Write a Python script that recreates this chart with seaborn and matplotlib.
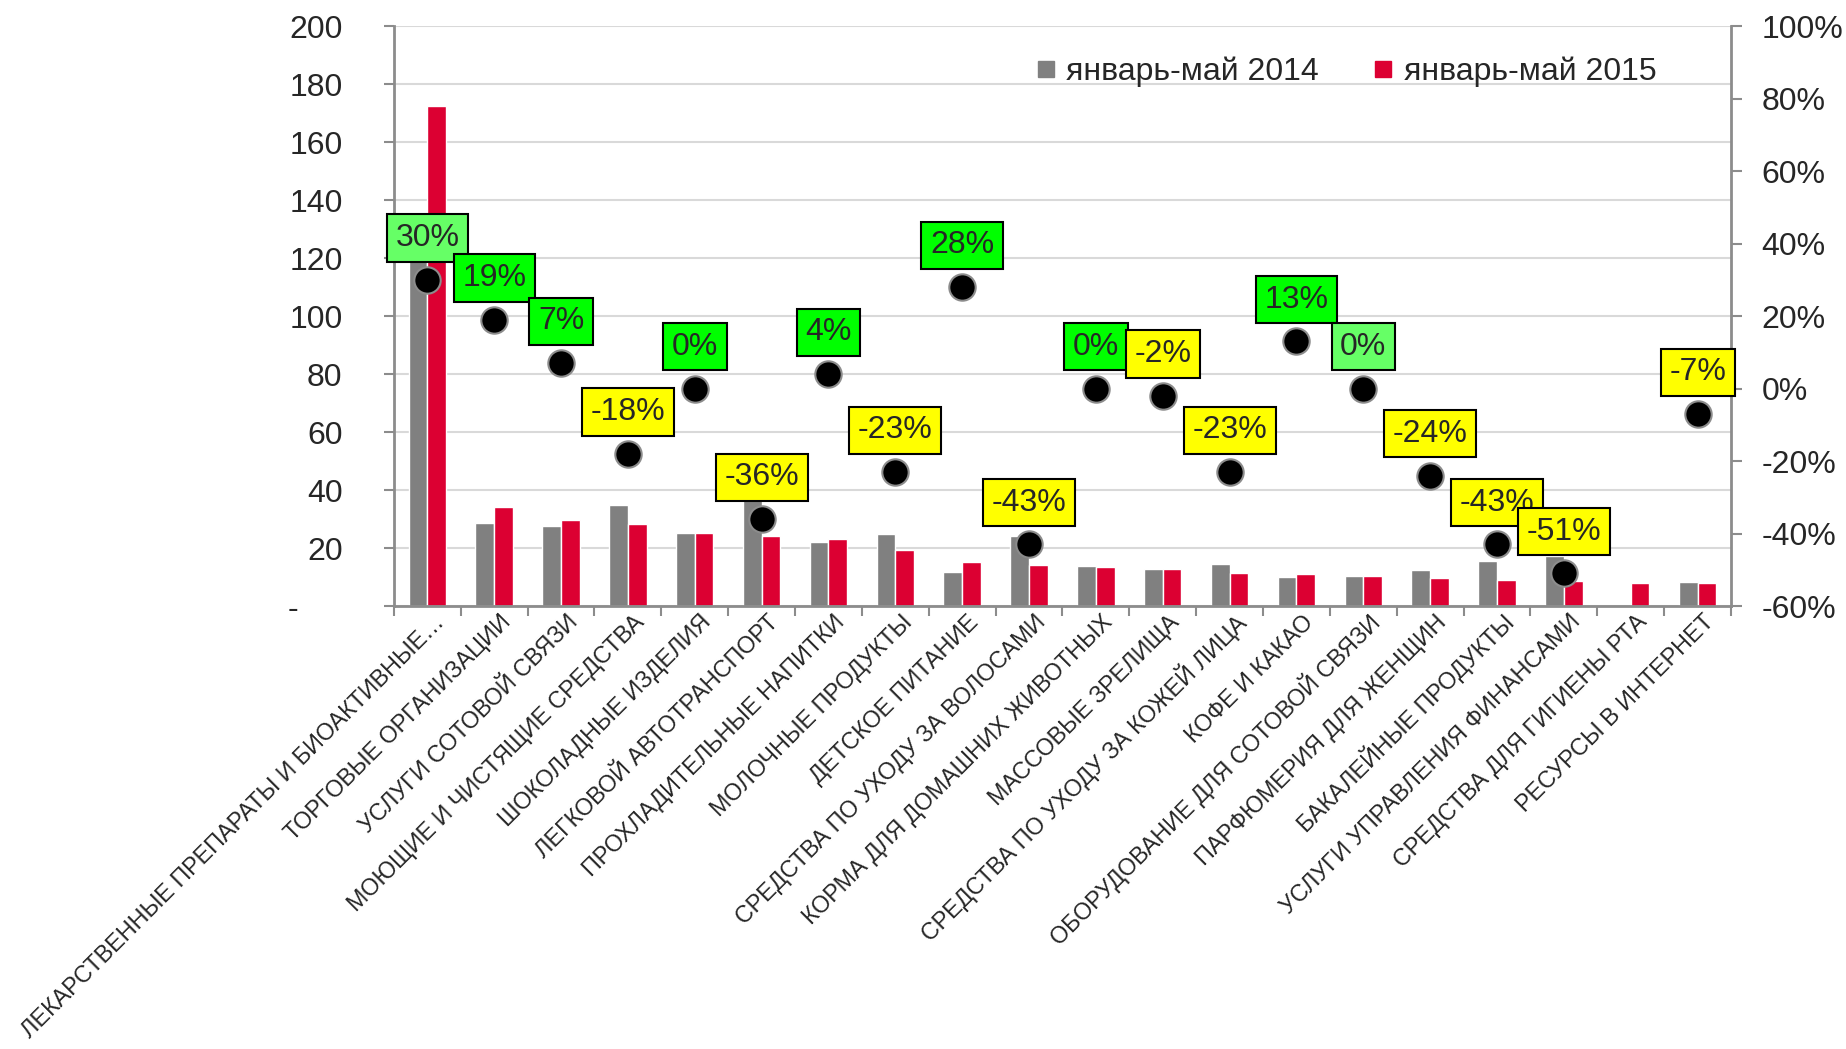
import numpy as np
import pandas as pd
import matplotlib
matplotlib.use("Agg")
import matplotlib.pyplot as plt
import matplotlib.transforms as mtransforms
import seaborn as sns
from matplotlib.lines import Line2D

categories = [
    "ЛЕКАРСТВЕННЫЕ ПРЕПАРАТЫ И БИОАКТИВНЫЕ…",
    "ТОРГОВЫЕ ОРГАНИЗАЦИИ",
    "УСЛУГИ СОТОВОЙ СВЯЗИ",
    "МОЮЩИЕ И ЧИСТЯЩИЕ СРЕДСТВА",
    "ШОКОЛАДНЫЕ ИЗДЕЛИЯ",
    "ЛЕГКОВОЙ АВТОТРАНСПОРТ",
    "ПРОХЛАДИТЕЛЬНЫЕ НАПИТКИ",
    "МОЛОЧНЫЕ ПРОДУКТЫ",
    "ДЕТСКОЕ ПИТАНИЕ",
    "СРЕДСТВА ПО УХОДУ ЗА ВОЛОСАМИ",
    "КОРМА ДЛЯ ДОМАШНИХ ЖИВОТНЫХ",
    "МАССОВЫЕ ЗРЕЛИЩА",
    "СРЕДСТВА ПО УХОДУ ЗА КОЖЕЙ ЛИЦА",
    "КОФЕ И КАКАО",
    "ОБОРУДОВАНИЕ ДЛЯ СОТОВОЙ СВЯЗИ",
    "ПАРФЮМЕРИЯ ДЛЯ ЖЕНЩИН",
    "БАКАЛЕЙНЫЕ ПРОДУКТЫ",
    "УСЛУГИ УПРАВЛЕНИЯ ФИНАНСАМИ",
    "СРЕДСТВА ДЛЯ ГИГИЕНЫ РТА",
    "РЕСУРСЫ В ИНТЕРНЕТ",
]
series_names = ["январь-май 2014", "январь-май 2015"]
values_2014 = [132, 28.5, 27.5, 34.7, 25.3, 37.8, 22.2, 25.0, 11.8, 24.2, 13.7, 12.9,
               14.6, 10.0, 10.3, 12.5, 15.6, 17.3, np.nan, 8.3]
values_2015 = [172.3, 34.1, 29.5, 28.3, 25.3, 24.2, 23.0, 19.3, 15.2, 14.0, 13.6, 12.6,
               11.3, 11.0, 10.3, 9.5, 9.0, 8.5, 8.1, 7.8]
change_pct = [30, 19, 7, -18, 0, -36, 4, -23, 28, -43, 0, -2, -23, 13, 0, -24, -43, -51, None, -7]
label_colors = ["#66FF66", "#00FF00", "#00FF00", "#FFFF00", "#00FF00", "#FFFF00", "#00FF00",
                "#FFFF00", "#00FF00", "#FFFF00", "#00FF00", "#FFFF00", "#FFFF00", "#00FF00",
                "#66FF66", "#FFFF00", "#FFFF00", "#FFFF00", None, "#FFFF00"]
left_ticks = list(range(0, 201, 20))
left_tick_labels = ["-     "] + [str(v) for v in left_ticks[1:]]
right_ticks = [-60, -40, -20, 0, 20, 40, 60, 80, 100]

GRAY = "#808080"
RED = "#DC0032"
AXIS = "#8C8C8C"

sns.set_theme(style="white")
plt.rcParams['font.family'] = ['Liberation Sans', 'DejaVu Sans']

fig = plt.figure(figsize=(18.46, 10.49), dpi=100)
ax = fig.add_axes([0.2134, 0.4223, 0.7243, 0.5529])

df = pd.DataFrame({
    "cat": categories * 2,
    "series": [series_names[0]] * len(categories) + [series_names[1]] * len(categories),
    "value": values_2014 + values_2015,
})
sns.barplot(data=df, x="cat", y="value", hue="series", order=categories,
            hue_order=series_names, palette=[GRAY, RED], width=0.56, saturation=1,
            errorbar=None, legend=False, ax=ax)

ax.set_ylim(0, 200)
ax.set_xlim(-0.5, len(categories) - 0.5)
ax.set_yticks(left_ticks)
ax.set_yticklabels(left_tick_labels, fontsize=23)
ax.set_xlabel("")
ax.set_ylabel("")
ax.yaxis.grid(True, color="#D9D9D9", lw=1.5)
ax.set_axisbelow(True)
ax.set_xticks(range(len(categories)))
ax.set_xticklabels(categories, rotation=45, ha="right", va="center",
                   rotation_mode="anchor", fontsize=16.8)
ax.set_xticks(np.arange(-0.5, len(categories)), minor=True)
ax.tick_params(axis="x", which="major", length=0, pad=9)
ax.tick_params(axis="x", which="minor", length=7, width=1.5, color=AXIS, bottom=True)
ax.tick_params(axis="y", length=7, width=1.5, color=AXIS, left=True, pad=30)
for s in ["top", "right"]:
    ax.spines[s].set_visible(False)
for s in ["left", "bottom"]:
    ax.spines[s].set_color(AXIS)
    ax.spines[s].set_linewidth(2)

ax2 = ax.twinx()
dfp = pd.DataFrame({"cat": categories,
                    "pct": [np.nan if p is None else p / 100 for p in change_pct]})
sns.stripplot(data=dfp, x="cat", y="pct", order=categories, jitter=False, size=19,
              color="black", edgecolor="#8C8C8C", linewidth=1.5, ax=ax2, zorder=3)
ax2.set_xlim(-0.5, len(categories) - 0.5)
ax2.set_ylim(-0.6, 1.0)
ax2.set_yticks([t / 100 for t in right_ticks])
ax2.set_yticklabels([f"{t}%" for t in right_ticks], fontsize=23)
ax2.set_ylabel("")
ax2.set_xlabel("")
ax2.tick_params(axis="y", length=8, width=1.5, color=AXIS, right=True, pad=14)
ax2.tick_params(axis="x", which="both", length=0, labelbottom=False)
for s in ["top", "left", "bottom"]:
    ax2.spines[s].set_visible(False)
ax2.spines["right"].set_color(AXIS)
ax2.spines["right"].set_linewidth(2)

for i, (p, c) in enumerate(zip(change_pct, label_colors)):
    if p is None:
        continue
    ax2.annotate(f"{p}%", xy=(i, p / 100), xytext=(0, 30), textcoords="offset points",
                 ha="center", va="center", fontsize=23, zorder=4,
                 bbox=dict(boxstyle="square,pad=0.27", fc=c, ec="black", lw=1.5))

handles = [Line2D([], [], marker="s", ls="", color=GRAY, markersize=11),
           Line2D([], [], marker="s", ls="", color=RED, markersize=11)]
ax2.legend(handles, series_names, loc="center", bbox_to_anchor=(0.711, 0.921), ncol=2,
           frameon=False, fontsize=23, handletextpad=0.25, columnspacing=1.6,
           handlelength=0.8)

# shift category labels slightly to the right (applied after all tick_params calls)
shift = mtransforms.ScaledTranslation(0.13, 0, fig.dpi_scale_trans)
for tick in ax.xaxis.get_major_ticks():
    tick.label1.set_transform(tick.label1.get_transform() + shift)

fig.savefig("out.png", dpi=100)
